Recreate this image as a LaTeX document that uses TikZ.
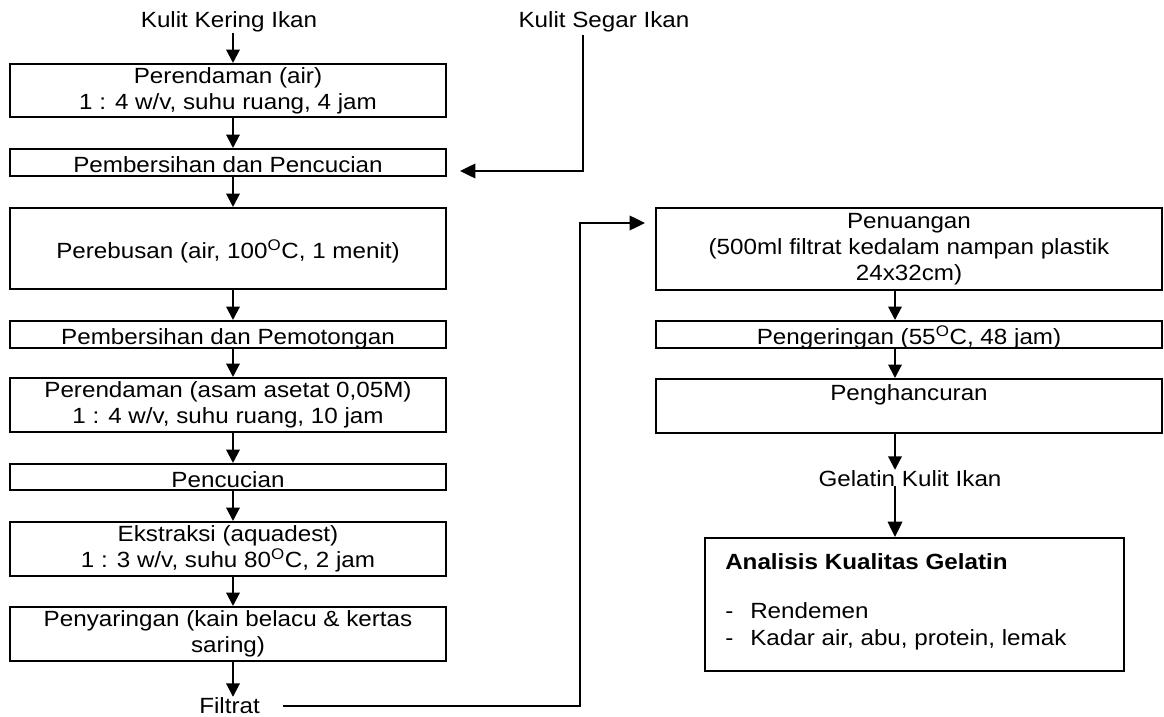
\documentclass[tikz,border=0pt]{standalone}
\usepackage{fontspec}
\setmainfont[FakeStretch=1.1]{Liberation Sans}
\usetikzlibrary{arrows.meta}
\begin{document}
\begin{tikzpicture}[x=0.75pt,y=-0.75pt,
  font=\fontsize{16.5}{19.5}\selectfont,
  box/.style={draw, line width=1.5pt, inner sep=0pt, align=center, minimum width=436*0.75pt},
  rbox/.style={box, minimum width=506*0.75pt},
  one/.style={text height=15pt, text depth=0pt},
  lbl/.style={inner sep=0pt},
  arr/.style={line width=1.5pt, -{Triangle[length=10pt,width=10pt]}},
  tarr/.style={line width=1pt, -{Triangle[length=11.5pt,width=11pt]}},
  tline/.style={line width=1pt}]
\useasboundingbox (0,0) rectangle (1164,717);
\coordinate (ax) at (233,0);
\coordinate (rx) at (895,0);

% left column
\node[lbl, anchor=base] (kk) at (229,28) {Kulit Kering Ikan};
\node[box, minimum height=53*0.75pt] (b1) at (228,90.5) {Perendaman (air)\\1 : 4 w/v, suhu ruang, 4 jam};
\node[box, one, minimum height=27*0.75pt] (b2) at (228,162.5) {Pembersihan dan Pencucian};
\node[box, one, minimum height=81*0.75pt] (b3) at (228,248.5) {Perebusan (air, 100\textsuperscript{O}C, 1 menit)};
\node[box, one, minimum height=27*0.75pt] (b4) at (228,334.5) {Pembersihan dan Pemotongan};
\node[box, minimum height=54*0.75pt] (b5) at (228,405) {Perendaman (asam asetat 0,05M)\\1 : 4 w/v, suhu ruang, 10 jam};
\node[box, one, minimum height=26*0.75pt] (b6) at (228,477) {Pencucian};
\node[box, minimum height=54*0.75pt] (b7) at (228,549) {Ekstraksi (aquadest)\\1 : 3 w/v, suhu 80\textsuperscript{O}C, 2 jam};
\node[box, minimum height=54*0.75pt] (b8) at (228,634) {Penyaringan (kain belacu \& kertas\\saring)};
\node[lbl, anchor=base] (filt) at (229.5,713) {Filtrat};

\draw[arr] (kk.south -| ax) -- (b1.north -| ax);
\draw[arr] (b1.south -| ax) -- (b2.north -| ax);
\draw[arr] (b2.south -| ax) -- (b3.north -| ax);
\draw[arr] (b3.south -| ax) -- (b4.north -| ax);
\draw[arr] (b4.south -| ax) -- (b5.north -| ax);
\draw[arr] (b5.south -| ax) -- (b6.north -| ax);
\draw[arr] (b6.south -| ax) -- (b7.north -| ax);
\draw[arr] (b7.south -| ax) -- (b8.north -| ax);
\draw[arr] (b8.south -| ax) -- (filt.north -| ax);

% fresh skin input
\node[lbl, anchor=base] (seg) at (604,28) {Kulit Segar Ikan};
\coordinate (s0) at (583,35);
\coordinate (segin) at (460,171);
\draw[tarr] (s0) |- (segin);

% filtrate to right column
\coordinate (f0) at (283,706);
\coordinate (fc) at (580,223);
\coordinate (pin) at (645,223);
\draw[tarr] (f0) -| (fc) -- (pin);

% right column
\node[rbox, minimum height=82*0.75pt] (r1) at (909,249) {Penuangan\\(500ml filtrat kedalam nampan plastik\\24x32cm)};
\node[rbox, one, minimum height=27*0.75pt] (r2) at (909,334.5) {Pengeringan (55\textsuperscript{O}C, 48 jam)};
\node[rbox, minimum height=54*0.75pt] (r3) at (909,406) {};
\node[lbl, anchor=base] (r3t) at (909,400) {Penghancuran};
\node[lbl, anchor=base] (gk) at (910,486) {Gelatin Kulit Ikan};

\draw[arr] (r1.south -| rx) -- (r2.north -| rx);
\draw[arr] (r2.south -| rx) -- (r3.north -| rx);
\draw[arr] (r3.south -| rx) -- (gk.north -| rx);

\node[draw, line width=1.5pt, inner sep=0pt, minimum width=419*0.75pt, minimum height=133*0.75pt] (an) at (914.5,604.5) {};
\draw[tarr] (gk.south -| rx) -- (an.north -| rx);
\node[lbl, anchor=base west] (ah) at (725,569) {\bfseries Analisis Kualitas Gelatin};
\node[lbl, anchor=base west] (d1) at (725,618) {-};
\node[lbl, anchor=base west] (i1) at (750,618) {Rendemen};
\node[lbl, anchor=base west] (d2) at (725,645) {-};
\node[lbl, anchor=base west] (i2) at (750,645) {Kadar air, abu, protein, lemak};
\end{tikzpicture}
\end{document}
